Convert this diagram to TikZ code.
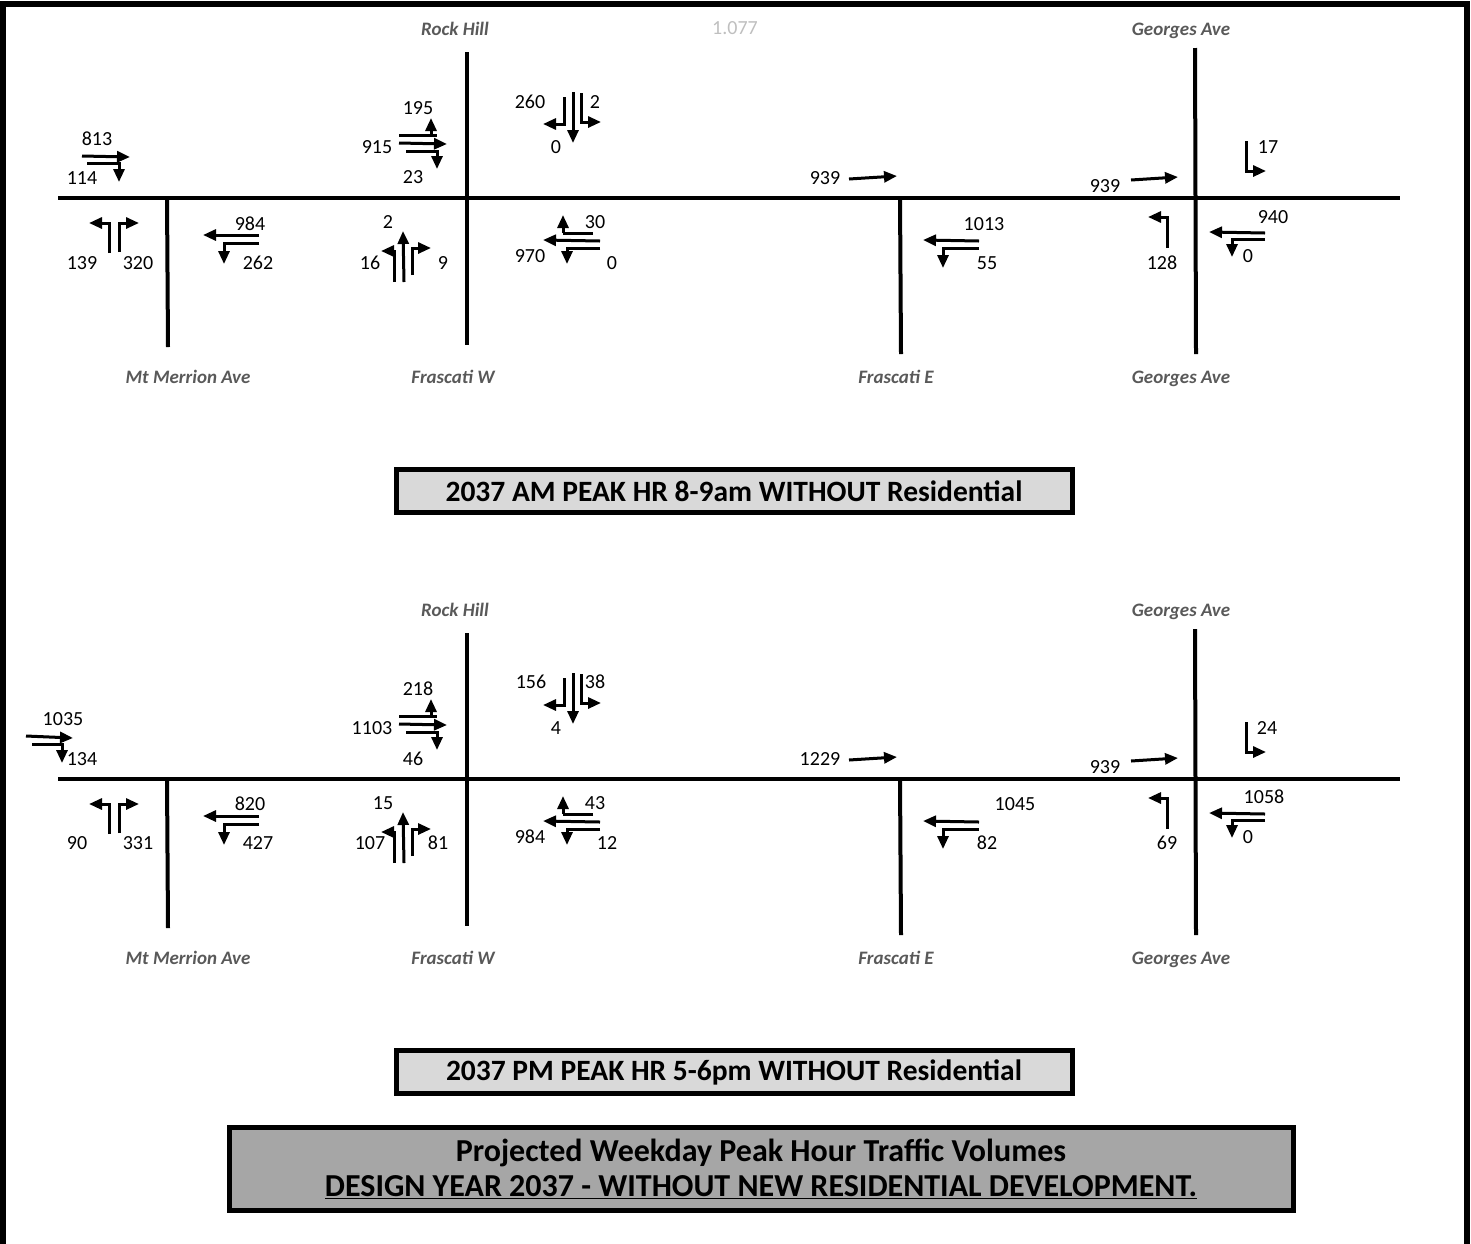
\documentclass[tikz,border=0pt]{standalone}
\usepackage{fontspec}
\setmainfont{Carlito}
\usetikzlibrary{arrows.meta}
\definecolor{roadgrey}{HTML}{595959}
\definecolor{factorgrey}{HTML}{BFBFBF}
\definecolor{boxlight}{HTML}{D9D9D9}
\definecolor{boxdark}{HTML}{A6A6A6}
\tikzset{
  road/.style={
    line width=4pt
  },
  mov/.style={
    line width=3pt,
    -{Triangle[length=13pt,width=11pt]}
  },
  bar/.style={
    line width=3pt
  },
  vol/.style={
    inner sep=0pt,
    font=\fontsize{20}{24}\selectfont
  },
  rdname/.style={
    inner sep=0pt,
    text height=13pt,
    text depth=4pt,
    text=roadgrey,
    font=\fontsize{19}{23}\selectfont\bfseries\itshape
  },
  peakbox/.style={
    draw,
    line width=5pt,
    fill=boxlight,
    inner sep=0pt,
    minimum width=676pt,
    minimum height=43pt,
    font=\fontsize{29.5}{34}\selectfont\bfseries
  },
  mainbox/.style={
    draw,
    line width=5pt,
    fill=boxdark,
    inner sep=0pt,
    minimum width=1064pt,
    minimum height=83pt,
    align=center,
    font=\fontsize{32}{35}\selectfont\bfseries
  }
}

\begin{document}
\begin{tikzpicture}[x=1pt,y=-1pt]
  \useasboundingbox (0,0) rectangle (1471,1243);
  % outer frame
  \draw[line width=6pt] (3,1250) -- (3,4) -- (1467,4) -- (1467,1250);

  % roads, road names and turning movements common to both peaks
  \foreach \dy/\pk in {0/am,581/pm}{
    \begin{scope}[shift={(0,\dy)}]
      \draw[road] (58,198) -- (1400,198);
      \draw[road] (167,198) -- (168,347);
      \draw[road] (467,52) -- (467,345);
      \draw[road] (900,198) -- (901,354);
      \draw[road] (1195,48) -- (1196,354);
      \node[rdname] (\pk rock) at (455,31) {Rock Hill};
      \node[rdname] (\pk geon) at (1181,31) {Georges Ave};
      \node[rdname] (\pk merrion) at (188,379) {Mt Merrion Ave};
      \node[rdname] (\pk fraw) at (453,379) {Frascati W};
      \node[rdname] (\pk frae) at (896,379) {Frascati E};
      \node[rdname] (\pk geos) at (1181,379) {Georges Ave};
      % Mt Merrion
      \draw[mov] (259,235) -- (203,235);
      \draw[mov] (259,243) -- (224,243) -- (224,264);
      \draw[mov] (109,253) -- (109,223) -- (89,223);
      \draw[mov] (119,252) -- (119,223) -- (139,223);
      % Rock Hill / Frascati W
      \draw[bar] (399,135) -- (437,135);
      \draw[mov] (431,135) -- (431,118);
      \draw[mov] (399,143) -- (447,144);
      \draw[mov] (406,151) -- (437,151) -- (437,169);
      \draw[mov] (564,97) -- (564,124) -- (543,124);
      \draw[mov] (573,92) -- (573,143);
      \draw[mov] (581,93) -- (581,122) -- (601,122);
      \draw[mov] (394,282) -- (394,251) -- (381,251);
      \draw[mov] (404,282) -- (403,231);
      \draw[mov] (412,275) -- (412,248) -- (431,248);
      \draw[bar] (593,233) -- (563,233);
      \draw[mov] (563,233) -- (563,215);
      \draw[mov] (600,241) -- (543,240);
      \draw[mov] (600,248) -- (567,248) -- (567,264);
      % Frascati E
      \draw[mov] (849,179) -- (897,176);
      \draw[mov] (979,241) -- (923,240);
      \draw[mov] (979,248) -- (943,248) -- (943,268);
      % Georges Ave
      \draw[mov] (1131,180) -- (1178,177);
      \draw[mov] (1246,141) -- (1246,171) -- (1266,171);
      \draw[mov] (1167,248) -- (1167,217) -- (1148,217);
      \draw[mov] (1265,233) -- (1209,232);
      \draw[mov] (1265,239) -- (1232,239) -- (1232,257);
    \end{scope}
  }
  \node[inner sep=0pt, text=factorgrey, font=\fontsize{20}{24}\selectfont] (factor) at (735,28) {1.077};

  % AM eastbound at Mt Merrion
  \draw[mov] (82,156) -- (130,157);
  \draw[mov] (87,163) -- (119,163) -- (119,182);
  % PM eastbound at Mt Merrion
  \draw[mov] (26,736) -- (73,738);
  \draw[mov] (32,744) -- (62,744) -- (62,763);

  % AM volumes
  \node[vol] (a813) at (97,139) {813};
  \node[vol] (a114) at (82,178) {114};
  \node[vol] (a139) at (82,263) {139};
  \node[vol] (a320) at (138,263) {320};
  \node[vol] (a984) at (250,224) {984};
  \node[vol] (a262) at (258,263) {262};
  \node[vol] (a195) at (418,108) {195};
  \node[vol] (a915) at (377,147) {915};
  \node[vol] (a23) at (413,177) {23};
  \node[vol] (a260) at (530,102) {260};
  \node[vol] (a2s) at (595,102) {2};
  \node[vol] (a0s) at (556,147) {0};
  \node[vol] (a2n) at (388,222) {2};
  \node[vol] (a16) at (370,263) {16};
  \node[vol] (a9) at (443,263) {9};
  \node[vol] (a30) at (595,222) {30};
  \node[vol] (a970) at (530,256) {970};
  \node[vol] (a0w) at (612,263) {0};
  \node[vol] (a939e) at (825,178) {939};
  \node[vol] (a1013) at (984,224) {1013};
  \node[vol] (a55) at (987,263) {55};
  \node[vol] (a939g) at (1105,186) {939};
  \node[vol] (a128) at (1162,263) {128};
  \node[vol] (a17) at (1268,147) {17};
  \node[vol] (a940) at (1273,217) {940};
  \node[vol] (a0g) at (1248,256) {0};

  % PM volumes
  \node[vol] (p1035) at (63,719) {1035};
  \node[vol] (p134) at (82,759) {134};
  \node[vol] (p90) at (77,843) {90};
  \node[vol] (p331) at (138,843) {331};
  \node[vol] (p820) at (250,804) {820};
  \node[vol] (p427) at (258,843) {427};
  \node[vol] (p218) at (418,689) {218};
  \node[vol] (p1103) at (372,728) {1103};
  \node[vol] (p46) at (413,759) {46};
  \node[vol] (p156) at (531,682) {156};
  \node[vol] (p38) at (595,682) {38};
  \node[vol] (p4) at (556,728) {4};
  \node[vol] (p15) at (383,803) {15};
  \node[vol] (p107) at (370,843) {107};
  \node[vol] (p81) at (438,843) {81};
  \node[vol] (p43) at (595,803) {43};
  \node[vol] (p984) at (530,837) {984};
  \node[vol] (p12) at (607,843) {12};
  \node[vol] (p1229) at (820,759) {1229};
  \node[vol] (p1045) at (1015,804) {1045};
  \node[vol] (p82) at (987,843) {82};
  \node[vol] (p939) at (1105,767) {939};
  \node[vol] (p69) at (1167,843) {69};
  \node[vol] (p24) at (1267,728) {24};
  \node[vol] (p1058) at (1264,797) {1058};
  \node[vol] (p0g) at (1248,837) {0};

  % titles
  \node[peakbox] (amtitle) at (734,491) {2037 AM PEAK HR 8-9am WITHOUT Residential};
  \node[peakbox] (pmtitle) at (734,1072) {2037 PM PEAK HR 5-6pm WITHOUT Residential};
  \node[mainbox] (maintitle) at (761,1169) {Projected Weekday Peak Hour Traffic Volumes\\\underline{DESIGN YEAR 2037 - WITHOUT NEW RESIDENTIAL DEVELOPMENT.}};
\end{tikzpicture}
\end{document}
